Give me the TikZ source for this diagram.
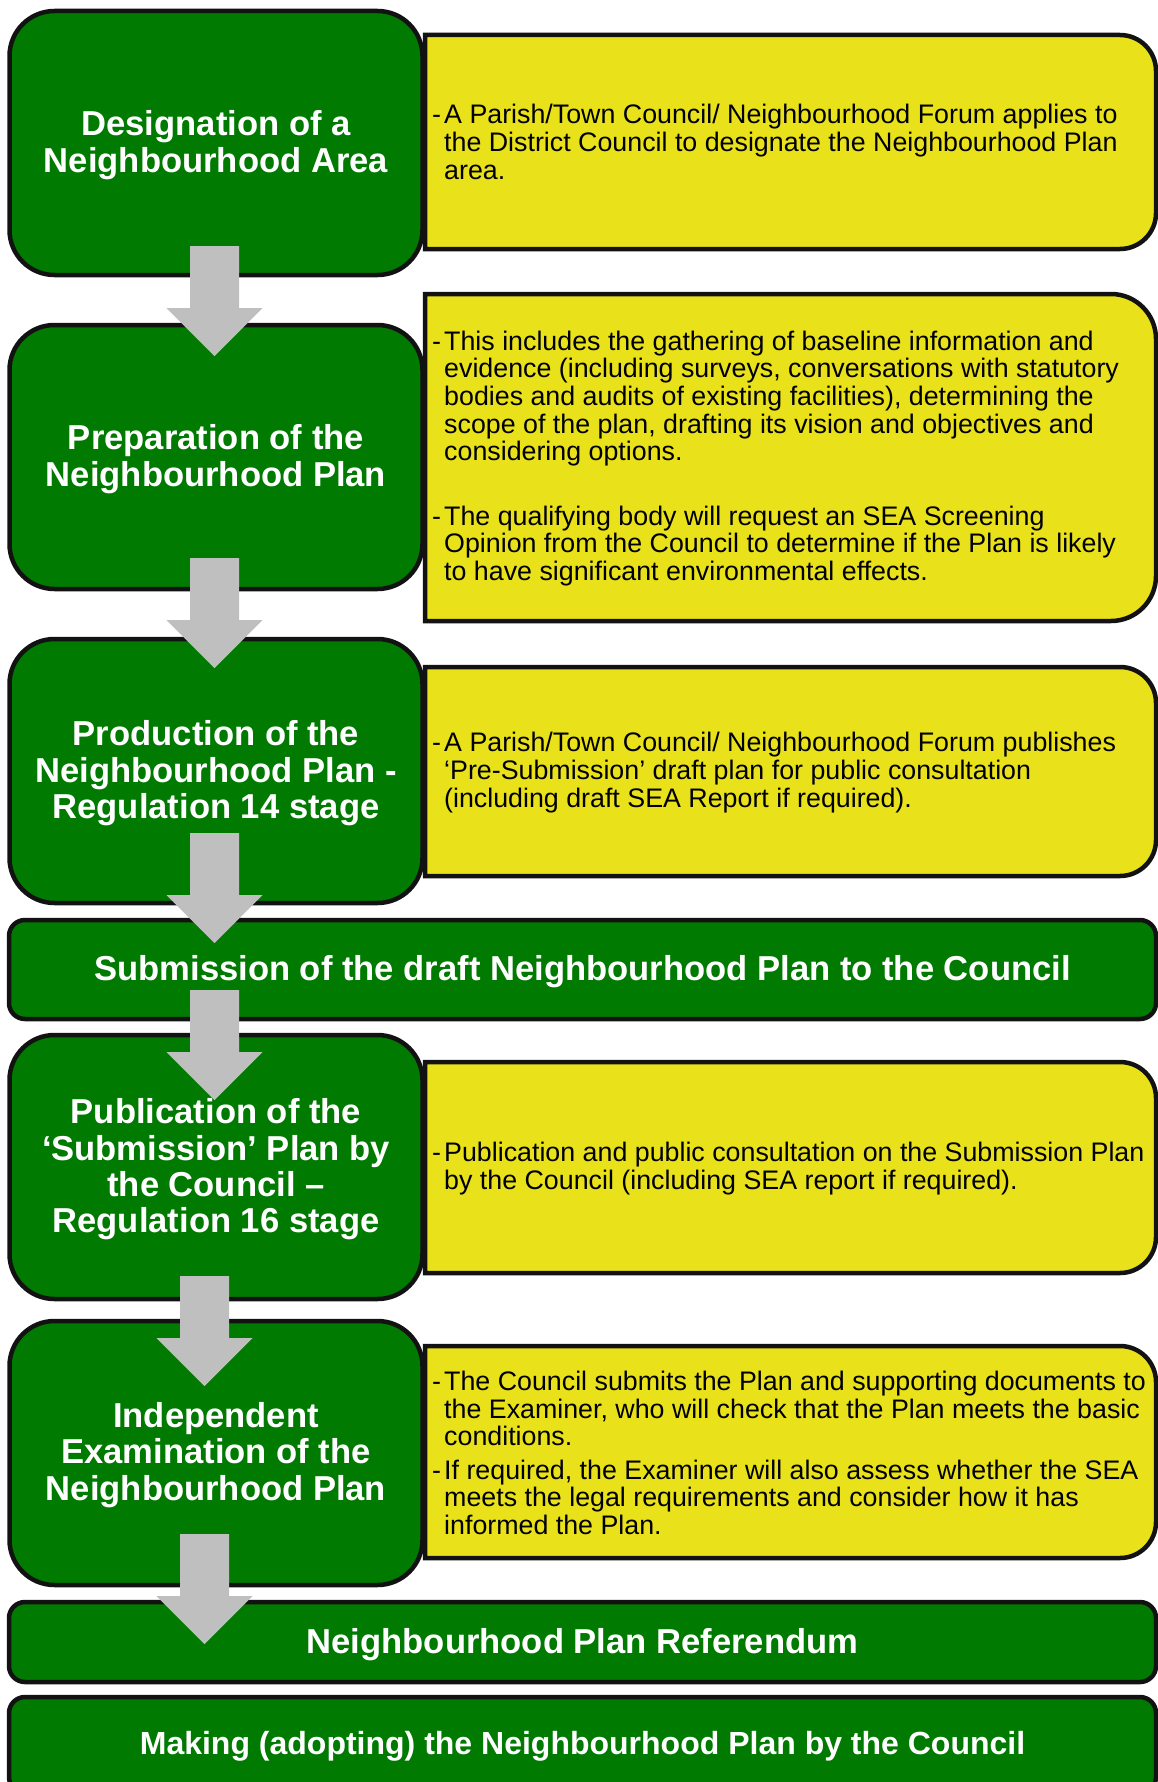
\documentclass[tikz,border=0pt]{standalone}
\usepackage{fontspec}
\setmainfont{Liberation Sans}
\definecolor{ngreen}{RGB}{0,122,0}
\definecolor{nyellow}{RGB}{233,226,26}
\definecolor{ngray}{RGB}{191,191,191}
\definecolor{nborder}{RGB}{18,18,18}
\newcommand\yshape[3]{%
  \draw[ybox] (425,#1) -- ({1156-#3},#1)
    .. controls ({1156-0.4477*#3},#1) and (1156,{#1+0.4477*#3}) .. (1156,{#1+#3})
    -- (1156,{#2-#3})
    .. controls (1156,{#2-0.4477*#3}) and ({1156-0.4477*#3},#2) .. ({1156-#3},#2)
    -- (425,#2) -- cycle;}
\newcommand\dsh{\makebox[12pt][l]{-}}
\newcommand\ind{\hspace*{12pt}}
\begin{document}
\begin{tikzpicture}[x=1pt,y=-1pt,
  gbox/.style={draw=nborder, line width=4.5pt, fill=ngreen, rounded corners=45pt,
    minimum width=413pt, minimum height=264pt, inner sep=0pt},
  gtext/.style={text=white, align=center, inner sep=0pt,
    font={\fontsize{34.6}{36.4}\selectfont\bfseries}},
  gbar/.style={draw=nborder, line width=4.5pt, fill=ngreen, rounded corners=16pt,
    minimum width=1147pt, inner sep=0pt},
  ybox/.style={draw=nborder, line width=4.5pt, fill=nyellow},
  ytext/.style={anchor=west, align=left, inner sep=0pt, text=black,
    font={\fontsize{26.8}{27.6}\selectfont}},
  barrow/.pic={\fill[ngray] (-24.5,0) -- (24.5,0) -- (24.5,62) -- (48,62) -- (0,110)
    -- (-48,62) -- (-24.5,62) -- cycle;}
]
\useasboundingbox (0,0) rectangle (1158,1782);
\clip (0,0) rectangle (1158,1782);

% green boxes
\node[gbox] (g1) at (216,143) {};
\node[gbox] (g2) at (216,457) {};
\node[gbox] (g3) at (216,771) {};
\node[gbox] (g4) at (216,1167) {};
\node[gbox] (g5) at (216,1453) {};
\node[gtext] (g1t) at ([yshift=-2pt]g1.center) {Designation of a\\Neighbourhood Area};
\node[gtext] (g2t) at ([yshift=-2pt]g2.center) {Preparation of the\\Neighbourhood Plan};
\node[gtext] (g3t) at ([yshift=-2.5pt]g3.center) {Production of the\\Neighbourhood Plan -\\Regulation 14 stage};
\node[gtext] (g4t) at ([yshift=-2.5pt]g4.center) {Publication of the\\‘Submission’ Plan by\\the Council –\\Regulation 16 stage};
\node[gtext] (g5t) at ([yshift=-2pt]g5.center) {Independent\\Examination of the\\Neighbourhood Plan};

% full-width bars
\node[gbar, minimum height=99pt] (b1) at (582.5,969.5) {};
\node[gbar, minimum height=80pt] (b2) at (582.5,1642) {};
\node[gbar, minimum height=96pt] (b3) at (582.5,1745) {};
\node[gtext] (b1t) at ([yshift=-2.5pt]b1.center) {Submission of the draft Neighbourhood Plan to the Council};
\node[gtext] (b2t) at ([yshift=-3pt]b2.center) {Neighbourhood Plan Referendum};
\node[gtext, font={\fontsize{32}{36}\selectfont\bfseries}] (b3t) at ([yshift=-1pt]b3.center) {Making (adopting) the Neighbourhood Plan by the Council};

% yellow boxes
\yshape{35}{249}{36}
\yshape{294}{621}{45}
\yshape{667}{876}{36}
\yshape{1062}{1273}{36}
\yshape{1346}{1558}{36}

\node[ytext] (y1) at (432,142) {\dsh A Parish/Town Council/ Neighbourhood Forum applies to\\
  \ind the District Council to designate the Neighbourhood Plan\\
  \ind area.};
\node[ytext] (y2) at (432,458.5) {\dsh This includes the gathering of baseline information and\\
  \ind evidence (including surveys, conversations with statutory\\
  \ind bodies and audits of existing facilities), determining the\\
  \ind scope of the plan, drafting its vision and objectives and\\
  \ind considering options.\\[37pt]
  \dsh The qualifying body will request an SEA Screening\\
  \ind Opinion from the Council to determine if the Plan is likely\\
  \ind to have significant environmental effects.};
\node[ytext] (y3) at (432,772.5) {\dsh A Parish/Town Council/ Neighbourhood Forum publishes\\
  \ind ‘Pre-Submission’ draft plan for public consultation\\
  \ind (including draft SEA Report if required).};
\node[ytext] (y4) at (432,1168.5) {\dsh Publication and public consultation on the Submission Plan\\
  \ind by the Council (including SEA report if required).};
\node[ytext] (y5) at (432,1453) {\dsh The Council submits the Plan and supporting documents to\\
  \ind the Examiner, who will check that the Plan meets the basic\\
  \ind conditions.\\[6pt]
  \dsh If required, the Examiner will also assess whether the SEA\\
  \ind meets the legal requirements and consider how it has\\
  \ind informed the Plan.};

% block arrows
\coordinate (a1) at (214.5,246);
\coordinate (a2) at (214.5,558);
\coordinate (a3) at (214.5,833);
\coordinate (a4) at (214.5,990);
\coordinate (a5) at (204.5,1276);
\coordinate (a6) at (204.5,1534);
\foreach \a in {a1,a2,a3,a4,a5,a6} {\pic at (\a) {barrow};}
\end{tikzpicture}
\end{document}
